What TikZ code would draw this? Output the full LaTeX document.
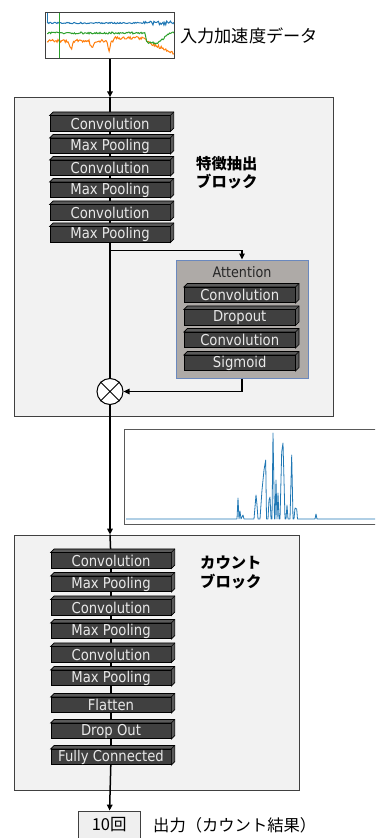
\documentclass[tikz,border=0pt]{standalone}
\usepackage{fontspec}
\setmainfont{DejaVu Sans}
\newfontfamily\lay{DejaVu Sans}[FakeStretch=0.88]
\newfontfamily\jp{Noto Sans CJK JP}
\usetikzlibrary{arrows.meta,calc}
\definecolor{layfront}{HTML}{404040}
\definecolor{laytop}{HTML}{5A5A5A}
\definecolor{laytext}{HTML}{E8E8E8}
\definecolor{blockfill}{HTML}{F2F2F2}
\definecolor{blockline}{HTML}{404040}
\definecolor{attfill}{HTML}{AEAAA7}
\definecolor{attline}{HTML}{6A88BE}
\definecolor{mplblue}{HTML}{1F77B4}
\definecolor{mplorange}{HTML}{FF7F0E}
\definecolor{mplgreen}{HTML}{2CA02C}
\definecolor{outfill}{HTML}{EFEFEF}
\pgfdeclarelayer{back}
\pgfdeclarelayer{mid}
\pgfsetlayers{back,mid,main}
\newcommand\threed[1]{%
  \filldraw[fill=laytop,draw=black,line width=0.6pt] (#1.north west) -- ++(3.5,-3.5) -| ($(#1.south east)+(3.5,-3.5)$) -- (#1.south east) -- (#1.north east) -- cycle;
  \draw[line width=0.6pt] (#1.north east) -- ++(3.5,-3.5);}
\tikzset{
  layerbox/.style={draw=black, line width=0.6pt, fill=layfront, text=laytext,
    font=\lay\fontsize{15}{15}\selectfont, minimum width=#1, minimum height=15.5, inner sep=0pt},
  layerbox/.default=120,
  conn/.style={line width=1.5pt},
  arr/.style={conn,-{Triangle[length=6pt,width=5.5pt]}},
  block/.style={draw=blockline, fill=blockfill, line width=0.8pt, inner sep=0pt},
  jplabel/.style={font=\jp\fontsize{#1}{#1}\selectfont, inner sep=0pt},
}
\begin{document}
\begin{tikzpicture}[x=1pt,y=-1pt]
\useasboundingbox (0,0) rectangle (375,838);
\clip (0,0) rectangle (375,838);

% input signal
\node[minimum width=128, minimum height=45.6, inner sep=0pt] (in) at (110,35.5) {};
\begin{scope}
\clip (in.south west) rectangle (in.north east);
\pgfmathsetseed{3}
\draw[mplorange, line width=1pt] plot[domain=47:174, samples=140]
  (\x,{41 + 9*max(0,1-abs(\x-71)/3) + 8*max(0,1-abs(\x-92)/3) + 10*max(0,1-abs(\x-109)/2) - 3*(\x>114)*(\x<146) + (\x>146)*(\x-146)*0.45 + 1.5*rand});
\draw[mplgreen, line width=1pt] plot[domain=47:174, samples=140]
  (\x,{33 + 10*min(1,max(0,(\x-145)/2))*min(1,max(0,(170-\x)/12)) + 1*rand});
\draw[mplblue, line width=1pt] plot[domain=47:174, samples=140]
  (\x,{23 + 0.7*rand + (\x>143)*2*rand});
\draw[mplgreen, line width=1pt] (59,12) -- (59,60);
\draw[mplblue, line width=1pt] (47.5,12) -- (47.5,22);
\end{scope}
\draw[blockline, line width=1pt] (in.south west) rectangle (in.north east);
\node[jplabel=17.2, anchor=west] (inl) at (180,36) {入力加速度データ};

% feature extraction block
\begin{pgfonlayer}{back}
\node[block, minimum width=319, minimum height=319] (fb) at (173.8,257.2) {};
\end{pgfonlayer}
\foreach \n/\y/\t in {1/123.5/Convolution,2/146/Max Pooling,3/168/Convolution,4/190/Max Pooling,5/212.5/Convolution,6/234.5/Max Pooling}{
  \node[layerbox] (f\n) at (110,\y) {\t};
  \threed{f\n}
}
\node[align=left, font=\jp\bfseries\fontsize{15.3}{17.7}\selectfont, inner sep=0pt, anchor=west] (fl) at (196,173) {特徴抽出\\ブロック};

% attention block
\node[draw=attline, fill=attfill, line width=1pt, minimum width=132, minimum height=118, inner sep=0pt] (att) at (242,319) {};
\node[font=\lay\fontsize{14.5}{14.5}\selectfont, text=black!85, inner sep=0pt] (attl) at (242,272) {Attention};
\foreach \n/\y/\t in {1/295/Convolution,2/317.5/Dropout,3/340/Convolution,4/363/Sigmoid}{
  \node[layerbox=111] (a\n) at (239.7,\y) {\t};
  \threed{a\n}
}

% multiply
\node[circle, draw=black, fill=white, line width=1pt, minimum size=26, inner sep=0pt] (mul) at (110,391.5) {};
\draw[line width=1pt] (mul.north west) -- (mul.south east) (mul.north east) -- (mul.south west);

% connectors in the feature block
\coordinate (fbin) at (fb.north -| in.south);
\coordinate (br) at (110,250.7);
\begin{pgfonlayer}{mid}
\draw[arr] (in.south) -- (fbin);
\draw[conn] (fbin) -- (f1);
\foreach \a/\b in {1/2,2/3,3/4,4/5,5/6}{ \draw[conn] (f\a) -- (f\b); }
\draw[conn] (f6) -- (mul);
\end{pgfonlayer}
\draw[arr] (br) -| (att.north);
\draw[arr] (att.south) |- (mul.east);

% attention weights plot
\node[draw=black!65, line width=1pt, minimum width=266, minimum height=94.7, inner sep=0pt] (ap) at (257,476.7) {};
\draw[mplblue, line width=0.8pt, line join=round] plot coordinates {
(126,519) (237,519) (238,498) (239,519) (240,511) (241,519) (243,515) (244,519)
(254,519) (255,507) (256,495) (257,505) (258,519) (260,519) (262,490) (264,470) (265.7,460) (266.5,519)
(268,519) (269,500) (270,497) (271,519) (272,519) (273,433) (274.5,519) (275,519) (276,480) (277,519)
(278,493) (279,519) (280,519) (281.7,452) (283,443) (284,480) (285,519) (286,519) (287,505) (288,519)
(290,519) (291.7,455) (293,519) (294,519) (295,508) (296.7,509) (297.5,519) (315,519) (316,514) (317,519) (385,519)};

% count block
\begin{pgfonlayer}{back}
\node[block, minimum width=284.7, minimum height=255] (cb) at (156.65,662.5) {};
\end{pgfonlayer}
\foreach \n/\y/\t in {1/560.5/Convolution,2/584/Max Pooling,3/607.5/Convolution,4/631/Max Pooling,5/654.5/Convolution,6/678/Max Pooling,7/705/Flatten,8/731/Drop Out,9/757/Fully Connected}{
  \node[layerbox] (k\n) at (111,\y) {\t};
  \threed{k\n}
}
\node[align=left, font=\jp\bfseries\fontsize{15.3}{18.4}\selectfont, inner sep=0pt, anchor=west] (cl) at (200,572.5) {カウント\\ブロック};

% output
\node[draw=blockline, fill=outfill, line width=0.8pt, minimum width=61.7, minimum height=28, inner sep=0pt, font=\jp\fontsize{16.5}{16.5}\selectfont] (out) at (109.2,825) {10回};
\node[jplabel=16.3, anchor=west] (outl) at (153,825) {出力（カウント結果）};

\coordinate (cbin) at (cb.north -| mul);
\begin{pgfonlayer}{mid}
\draw[arr] (mul) -- (cbin);
\draw[conn] (cbin) -- (k1);
\foreach \a/\b in {1/2,2/3,3/4,4/5,5/6,6/7,7/8,8/9}{ \draw[conn] (k\a) -- (k\b); }
\end{pgfonlayer}
\draw[arr] (k9) -- (out);
\end{tikzpicture}
\end{document}
